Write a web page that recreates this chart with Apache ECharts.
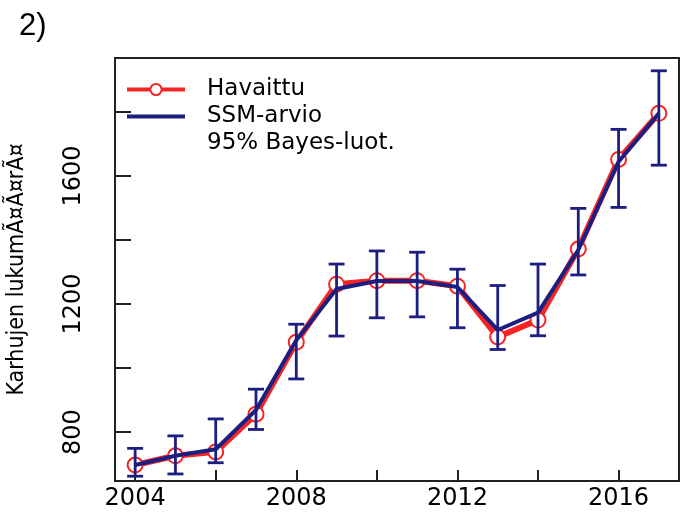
<!DOCTYPE html>
<html>
<head>
<meta charset="utf-8">
<script src="https://cdn.jsdelivr.net/npm/echarts@6/dist/echarts.min.js"></script>
<style>html,body{margin:0;padding:0;background:#fff}#c{width:681px;height:513px}</style>
</head>
<body>
<div id="c"></div>
<script>
const years = [2004,2005,2006,2007,2008,2009,2010,2011,2012,2013,2014,2015,2016,2017];
const observed = [697,726,738,856,1081,1262,1273,1273,1256,1097,1150,1372,1652,1796];
const ssm = [697,726,746,869,1087,1247,1272,1272,1253,1119,1173,1369,1645,1796];
const ciLow = [662,669,704,808,966,1100,1157,1160,1126,1058,1101,1291,1502,1634];
const ciHigh = [749,788,841,934,1137,1325,1366,1362,1309,1258,1325,1499,1746,1929];
const xTicks = [2004,2006,2008,2010,2012,2014,2016];
const xLabels = [2004,2008,2012,2016];
const yTicks = [800,1000,1200,1400,1600,1800];
const yLabels = [800,1200,1600];

const RED = '#f52525', BLUE = '#1c1f80';
const chart = echarts.init(document.getElementById('c'));
const font = 'DejaVu Sans';
chart.setOption({
  animation: false,
  backgroundColor: '#fff',
  title: {text: '2)', left: 14, top: 6, textStyle: {fontFamily: 'Liberation Sans', fontSize: 31, fontWeight: 'normal', color: '#000'}},
  grid: {left: 115, right: 2, top: 58, bottom: 32, show: true, borderColor: '#222', borderWidth: 2, outerBoundsMode: 'none', containLabel: false},
  legend: {
    orient: 'vertical', left: 120, top: 73, itemWidth: 58, itemHeight: 14, itemGap: 4,
    textStyle: {fontFamily: font, fontSize: 23, color: '#000', padding: [0,0,0,17], lineHeight: 23},
    data: [
      {name: 'Havaittu', lineStyle: {width: 4}},
      {name: 'SSM-arvio', itemStyle: {opacity: 0}, lineStyle: {width: 4}},
      {name: '95% Bayes-luot.', icon: 'rect', itemStyle: {opacity: 0}}
    ]
  },
  xAxis: {
    type: 'value', min: 2003.5, max: 2017.5,
    axisLine: {show: true, lineStyle: {color: '#222', width: 2}},
    axisTick: {show: true, inside: true, length: 11, customValues: xTicks, lineStyle: {color: '#222', width: 2}},
    axisLabel: {customValues: xLabels, formatter: v => String(v), fontFamily: font, fontSize: 24, color: '#000', margin: 6},
    splitLine: {show: false}
  },
  yAxis: {
    type: 'value', min: 647, max: 1969,
    name: 'Karhujen lukumÃ¤Ã¤rÃ¤', nameLocation: 'middle', nameGap: 86,
    nameTextStyle: {fontFamily: '"DejaVu Sans Condensed", "Liberation Sans", sans-serif', fontSize: 23, color: '#000'},
    axisLine: {show: true, lineStyle: {color: '#222', width: 2}},
    axisTick: {show: true, inside: true, length: 16, customValues: yTicks, lineStyle: {color: '#222', width: 2}},
    axisLabel: {customValues: yLabels, formatter: v => String(v), rotate: 90, fontFamily: font, fontSize: 24, color: '#000', margin: 29},
    splitLine: {show: false}
  },
  series: [
    {
      name: 'Havaittu', type: 'line', z: 2,
      data: years.map((y,i)=>[y, observed[i]]),
      symbol: 'emptyCircle', symbolSize: 15,
      lineStyle: {color: RED, width: 6},
      itemStyle: {color: RED, borderColor: RED, borderWidth: 3.5}
    },
    {
      name: 'SSM-arvio', type: 'line', z: 3,
      data: years.map((y,i)=>[y, ssm[i]]),
      symbol: 'none',
      lineStyle: {color: BLUE, width: 4},
      itemStyle: {color: BLUE}
    },
    {
      name: '95% Bayes-luot.', type: 'custom', z: 4,
      itemStyle: {color: BLUE},
      data: years.map((y,i)=>[y, ciLow[i], ciHigh[i]]),
      renderItem: function(params, api) {
        const x = api.value(0);
        const lo = api.coord([x, api.value(1)]);
        const hi = api.coord([x, api.value(2)]);
        const w = 8;
        const st = {stroke: BLUE, lineWidth: 2.8};
        return {type: 'group', children: [
          {type: 'line', shape: {x1: lo[0], y1: lo[1], x2: hi[0], y2: hi[1]}, style: st},
          {type: 'line', shape: {x1: lo[0]-w, y1: lo[1], x2: lo[0]+w, y2: lo[1]}, style: st},
          {type: 'line', shape: {x1: hi[0]-w, y1: hi[1], x2: hi[0]+w, y2: hi[1]}, style: st}
        ]};
      }
    }
  ]
});
</script>
</body>
</html>
